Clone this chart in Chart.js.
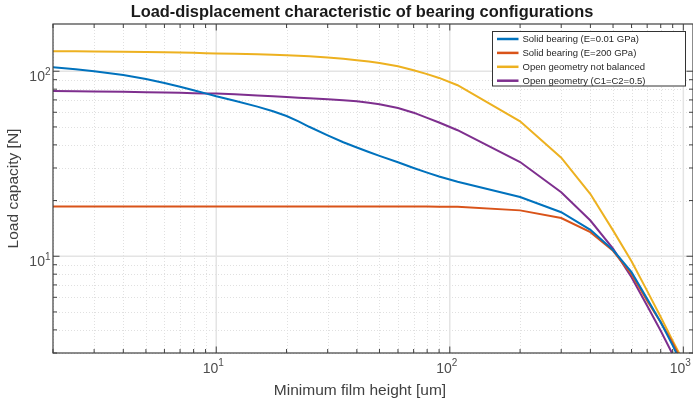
<!DOCTYPE html>
<html>
<head>
<meta charset="utf-8">
<script src="https://cdn.jsdelivr.net/npm/chart.js@4.4.1/dist/chart.umd.min.js"></script>
<style>
html,body{margin:0;padding:0;background:#fff;}
#wrap{width:693px;height:404px;}
</style>
</head>
<body>
<div id="wrap"><canvas id="c" width="693" height="404"></canvas></div>
<script>
// ---- data ----
const filmHeight = [2,2.5,3,4,5,6,7,8,9,10,12,15,17.5,20,22.5,25,30,35,40,45,50,60,70,80,90,108,200,300,400,500,600,700,800,900,1000];
const solidSoft  = [105,102.5,100,95.5,90.8,86.4,82.4,78.9,75.9,73.2,69.2,64.4,60.8,57.3,53.6,50.1,45.0,41.3,38.7,36.6,34.9,32.2,30.0,28.3,27.0,25.3,20.9,17.3,13.9,10.8,8.2,5.9,4.4,3.3,2.5];
const solidStiff = [18.6,18.6,18.6,18.6,18.6,18.6,18.6,18.6,18.6,18.6,18.6,18.6,18.6,18.6,18.6,18.6,18.6,18.6,18.6,18.6,18.6,18.55,18.55,18.55,18.5,18.5,17.7,16.1,13.5,10.7,8.0,5.75,4.4,3.4,2.6];
const openNotBal = [128.3,128.2,128,127.6,127.2,126.7,126.2,125.7,125.2,124.7,124.2,123.4,122.7,122,121.2,120.4,118.6,116.8,114.7,112.8,110.9,106.4,101.3,96.5,92,84,53.6,34.1,21.7,13.8,9.4,6.5,4.7,3.5,2.7];
const openBal    = [78.2,78,77.8,77.4,77,76.7,76.4,76.1,75.9,75.7,75.1,74,73.3,72.6,72.0,71.5,70.5,69.7,68.8,67.6,66.3,63.3,59.7,56,52.8,48,32.3,22.2,15.6,11.0,7.7,5.4,3.96,2.95,2.2];
const seriesNames = ['Solid bearing (E=0.01 GPa)','Solid bearing (E=200 GPa)','Open geometry not balanced','Open geometry (C1=C2=0.5)'];
const seriesColors = ['#0072BD','#D95319','#EDB120','#7E2F8E'];
const xTickValues = [10,100,1000];
const yTickValues = [10,100];
const xRange = [2,1100];
const yRange = [3,180];
const titleText = 'Load-displacement characteristic of bearing configurations';
const xLabelText = 'Minimum film height [um]';
const yLabelText = 'Load capacity [N]';

const seriesValues = [solidSoft, solidStiff, openNotBal, openBal];
const datasets = seriesValues.map((vals,i)=>({
  label: seriesNames[i],
  data: filmHeight.map((x,j)=>({x:x,y:vals[j]})),
  borderColor: seriesColors[i],
  backgroundColor: seriesColors[i],
  borderWidth: 2,
  pointRadius: 0,
  tension: 0,
  fill: false
}));

function minorValues(min,max){
  const out=[];
  for(let e=-1;e<=4;e++){
    for(let m=1;m<=9;m++){
      const v=m*Math.pow(10,e);
      if(v>=min-1e-9 && v<=max+1e-9) out.push({v:v,major:m===1});
    }
  }
  return out;
}

const FONT='"Liberation Sans", Arial, Helvetica, sans-serif';
const AX='#404040';

const decor = {
  id:'decor',
  beforeDraw(chart){
    const ctx=chart.ctx;
    ctx.save();ctx.fillStyle='#fff';ctx.fillRect(0,0,chart.width,chart.height);ctx.restore();
  },
  beforeDatasetsDraw(chart){
    const ctx=chart.ctx, a=chart.chartArea, sx=chart.scales.x, sy=chart.scales.y;
    ctx.save();
    // minor grid (dotted)
    ctx.strokeStyle='#e0e0e0';ctx.lineWidth=1;ctx.setLineDash([1,2]);
    minorValues(xRange[0],xRange[1]).forEach(t=>{ if(t.major) return;
      const p=Math.round(sx.getPixelForValue(t.v))+0.5;
      ctx.beginPath();ctx.moveTo(p,a.top);ctx.lineTo(p,a.bottom);ctx.stroke();});
    minorValues(yRange[0],yRange[1]).forEach(t=>{ if(t.major) return;
      const p=Math.round(sy.getPixelForValue(t.v))+0.5;
      ctx.beginPath();ctx.moveTo(a.left,p);ctx.lineTo(a.right,p);ctx.stroke();});
    // major grid
    ctx.setLineDash([]);ctx.strokeStyle='#e4e4e4';ctx.lineWidth=1.5;
    xTickValues.forEach(v=>{const p=sx.getPixelForValue(v);
      ctx.beginPath();ctx.moveTo(p,a.top);ctx.lineTo(p,a.bottom);ctx.stroke();});
    yTickValues.forEach(v=>{const p=sy.getPixelForValue(v);
      ctx.beginPath();ctx.moveTo(a.left,p);ctx.lineTo(a.right,p);ctx.stroke();});
    ctx.restore();
  },
  afterDatasetsDraw(chart){
    const ctx=chart.ctx, a=chart.chartArea, sx=chart.scales.x, sy=chart.scales.y;
    ctx.save();
    // axes box
    ctx.strokeStyle=AX;ctx.lineWidth=1.2;
    ctx.strokeRect(a.left,a.top,a.right-a.left,a.bottom-a.top);
    // ticks
    ctx.lineWidth=1;
    minorValues(xRange[0],xRange[1]).forEach(t=>{
      const p=sx.getPixelForValue(t.v), L=t.major?6.5:4;
      ctx.beginPath();ctx.moveTo(p,a.bottom);ctx.lineTo(p,a.bottom-L);
      ctx.moveTo(p,a.top);ctx.lineTo(p,a.top+L);ctx.stroke();});
    minorValues(yRange[0],yRange[1]).forEach(t=>{
      const p=sy.getPixelForValue(t.v), L=t.major?6.5:4;
      ctx.beginPath();ctx.moveTo(a.left,p);ctx.lineTo(a.left+L,p);
      ctx.moveTo(a.right,p);ctx.lineTo(a.right-L,p);ctx.stroke();});
    // tick labels
    ctx.fillStyle='#4d4d4d';
    const baseF='14px '+FONT, supF='10px '+FONT;
    function lbl(v){return {base:'10',exp:String(Math.round(Math.log10(v)))};}
    xTickValues.forEach(v=>{
      const L=lbl(v);ctx.font=baseF;const wb=ctx.measureText(L.base).width;
      ctx.font=supF;const we=ctx.measureText(L.exp).width;
      const cx=sx.getPixelForValue(v)-3, x0=cx-(wb+we)/2;
      ctx.textBaseline='alphabetic';ctx.textAlign='left';
      ctx.font=baseF;ctx.fillText(L.base,x0,a.bottom+19.5);
      ctx.font=supF;ctx.fillText(L.exp,x0+wb,a.bottom+13);
    });
    yTickValues.forEach(v=>{
      const L=lbl(v);ctx.font=baseF;const wb=ctx.measureText(L.base).width;
      ctx.font=supF;const we=ctx.measureText(L.exp).width;
      const right=a.left-2.5, py=sy.getPixelForValue(v);
      ctx.textBaseline='alphabetic';ctx.textAlign='left';
      ctx.font=baseF;ctx.fillText(L.base,right-we-wb,py+10);
      ctx.font=supF;ctx.fillText(L.exp,right-we,py+3.5);
    });
    // title
    ctx.fillStyle='#1a1a1a';ctx.font='bold 16.4px '+FONT;ctx.textAlign='center';ctx.textBaseline='middle';
    ctx.fillText(titleText,362,12);
    // axis labels
    ctx.fillStyle='#404040';ctx.font='15.5px '+FONT;
    ctx.fillText(xLabelText,360,391);
    ctx.save();ctx.translate(14,(a.top+a.bottom)/2);ctx.rotate(-Math.PI/2);
    ctx.fillText(yLabelText,0,0);ctx.restore();
    // legend
    const bx=492.5, by=31.5, bw=193, bh=54.5;
    ctx.fillStyle='#fff';ctx.fillRect(bx,by,bw,bh);
    ctx.strokeStyle='#333';ctx.lineWidth=1;ctx.strokeRect(bx,by,bw,bh);
    ctx.font='9.5px '+FONT;ctx.textAlign='left';ctx.textBaseline='middle';
    chart.data.datasets.forEach((d,i)=>{
      const yy=39+i*13.9;
      ctx.strokeStyle=d.borderColor;ctx.lineWidth=2.5;
      ctx.beginPath();ctx.moveTo(497,yy);ctx.lineTo(518.5,yy);ctx.stroke();
      ctx.fillStyle='#262626';ctx.fillText(d.label,522.5,yy+0.5);
    });
    ctx.restore();
  }
};

new Chart(document.getElementById('c'),{
  type:'line',
  data:{datasets:datasets},
  options:{
    responsive:false,
    animation:false,
    layout:{padding:{top:24,right:0,left:0,bottom:0}},
    plugins:{legend:{display:false},title:{display:false},tooltip:{enabled:false}},
    scales:{
      x:{type:'logarithmic',min:xRange[0],max:xRange[1],
         ticks:{display:false},grid:{display:false},border:{display:false},
         afterFit(s){s.height=51;}},
      y:{type:'logarithmic',min:yRange[0],max:yRange[1],
         ticks:{display:false},grid:{display:false},border:{display:false},
         afterFit(s){s.width=53;}}
    }
  },
  plugins:[decor]
});
</script>
</body>
</html>
